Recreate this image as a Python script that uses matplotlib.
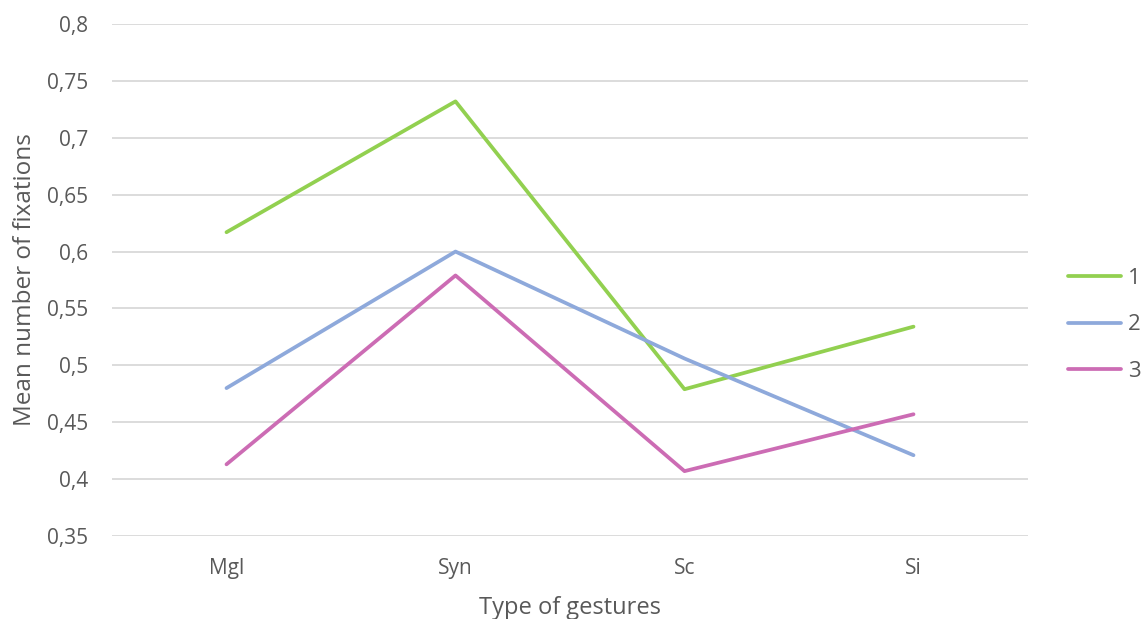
import matplotlib.pyplot as plt

# donnees
gestes = ["Mgl", "Syn", "Sc", "Si"]
serie_1 = [0.617, 0.732, 0.479, 0.534]
serie_2 = [0.480, 0.600, 0.506, 0.421]
serie_3 = [0.413, 0.579, 0.407, 0.457]
noms = ["1", "2", "3"]
couleurs = ["#92D050", "#8EA9DB", "#CC6CB4"]
yticks = [0.35, 0.4, 0.45, 0.5, 0.55, 0.6, 0.65, 0.7, 0.75, 0.8]

plt.rcParams['font.family'] = ['Open Sans', 'DejaVu Sans']
gris = "#595959"

fig = plt.figure(figsize=(11.42, 6.19), dpi=100)
ax = fig.add_axes([112 / 1142, 1 - 536 / 619, (1028 - 112) / 1142, (536 - 24) / 619])

x = range(len(gestes))
for serie, nom, c in zip([serie_1, serie_2, serie_3], noms, couleurs):
    ax.plot(x, serie, color=c, lw=2.7, label=nom, solid_capstyle='round', zorder=3)

ax.set_xlim(-0.5, 3.5)
ax.set_ylim(0.35, 0.8)
ax.set_yticks(yticks)
ax.set_yticklabels([str(v).replace(".", ",") for v in yticks])
ax.set_xticks(list(x))
ax.set_xticklabels(gestes)
ax.grid(axis='y', color="#D9D9D9", lw=1.3)
ax.set_axisbelow(True)
for s in ax.spines.values():
    s.set_visible(False)
ax.tick_params(length=0, labelsize=15, colors=gris, pad=17)
ax.tick_params(axis='x', pad=16)
ax.set_xlabel("Type of gestures", fontsize=17, color=gris, labelpad=12)
ax.set_ylabel("Mean number of fixations", fontsize=17.5, color=gris, labelpad=7)

leg = fig.legend(loc='center left', bbox_to_anchor=(1068 / 1142, 1 - 325 / 619), frameon=False,
                 fontsize=16, labelcolor=gris, handlelength=2.4, handletextpad=0.3,
                 labelspacing=1.15, borderaxespad=0, borderpad=0)

fig.savefig("out.png", dpi=100)
